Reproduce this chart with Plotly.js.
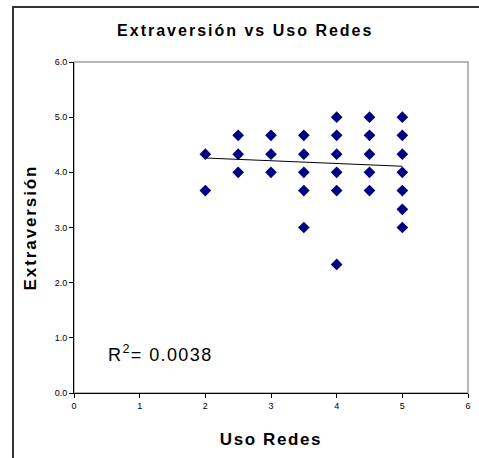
<!DOCTYPE html>
<html>
<head>
<meta charset="utf-8">
<script src="https://cdn.plot.ly/plotly-3.0.1.min.js"></script>
<style>
html,body{margin:0;padding:0;background:#fff;}
#chart{width:479px;height:458px;}
#chart .gtitle{letter-spacing:2px;}
#chart .ytitle{letter-spacing:1.9px;}
#chart .xtitle{letter-spacing:1.6px;}
#chart .annotation-text{letter-spacing:1.4px;}
</style>
</head>
<body>
<div id="chart"></div>
<script>
// Scatter data (Uso Redes vs Extraversión)
const usoRedes = [
  2, 2,
  2.5, 2.5, 2.5,
  3, 3, 3,
  3.5, 3.5, 3.5, 3.5, 3.5,
  4, 4, 4, 4, 4, 4,
  4.5, 4.5, 4.5, 4.5, 4.5,
  5, 5, 5, 5, 5, 5, 5
];
const extraversion = [
  4.33, 3.67,
  4.67, 4.33, 4.0,
  4.67, 4.33, 4.0,
  4.67, 4.33, 4.0, 3.67, 3.0,
  5.0, 4.67, 4.33, 4.0, 3.67, 2.33,
  5.0, 4.67, 4.33, 4.0, 3.67,
  5.0, 4.67, 4.33, 4.0, 3.67, 3.33, 3.0
];
// Linear trend line end points
const trendX = [2, 5];
const trendY = [4.26, 4.11];
const xTicks = [0, 1, 2, 3, 4, 5, 6];
const yTicks = [0, 1, 2, 3, 4, 5, 6];
const yTickLabels = ["0.0", "1.0", "2.0", "3.0", "4.0", "5.0", "6.0"];
const rSquaredText = "R<sup>2</sup>= 0.0038";

const FONT = "Arial, 'Liberation Sans', sans-serif";

const traces = [
  {
    x: usoRedes, y: extraversion, type: "scatter", mode: "markers",
    marker: {symbol: "diamond", size: 9, color: "#000080", line: {width: 0}},
    hoverinfo: "x+y"
  },
  {
    x: trendX, y: trendY, type: "scatter", mode: "lines",
    line: {color: "#000000", width: 1}, hoverinfo: "skip"
  }
];

const layout = {
  width: 479, height: 458,
  margin: {l: 74, r: 11, t: 62, b: 65, pad: 0},
  paper_bgcolor: "#ffffff", plot_bgcolor: "#ffffff",
  showlegend: false,
  font: {family: FONT, color: "#000"},
  title: {
    text: "<b>Extraversión vs Uso Redes</b>",
    font: {family: FONT, size: 16, color: "#000"},
    x: 0.512, xanchor: "center", y: 0.933, yanchor: "middle"
  },
  xaxis: {
    range: [0, 6], tickvals: xTicks, ticktext: xTicks.map(String),
    showgrid: false, zeroline: false,
    showline: true, linecolor: "#000", linewidth: 1,
    ticks: "outside", ticklen: 4, tickcolor: "#000", tickwidth: 1,
    tickfont: {family: FONT, size: 9, color: "#000"},
    title: {text: "<b>Uso Redes</b>", font: {family: FONT, size: 17, color: "#000"}, standoff: 23},
    fixedrange: true
  },
  yaxis: {
    range: [0, 6], tickvals: yTicks, ticktext: yTickLabels,
    showgrid: false, zeroline: false,
    showline: true, linecolor: "#000", linewidth: 1,
    ticks: "outside", ticklen: 4, tickcolor: "#000", tickwidth: 1,
    tickfont: {family: FONT, size: 9, color: "#000"},
    title: {text: "<b>Extraversión</b>", font: {family: FONT, size: 17, color: "#000"}, standoff: 13},
    fixedrange: true
  },
  shapes: [
    {type: "rect", xref: "paper", yref: "paper", x0: 0, x1: 1, y0: 0, y1: 1,
     line: {color: "#a0a0a0", width: 1.5}, layer: "below"},
    {type: "rect", xref: "paper", yref: "paper", x0: -0.1548, x1: 1.05, y0: -0.2, y1: 1.166,
     line: {color: "#333333", width: 2}, layer: "below"}
  ],
  annotations: [
    {text: rSquaredText, x: 0.59, y: 0.72, xref: "x", yref: "y",
     xanchor: "left", yanchor: "middle", showarrow: false,
     font: {family: FONT, size: 18, color: "#000"}}
  ]
};

Plotly.newPlot("chart", traces, layout, {displayModeBar: false, staticPlot: true});
</script>
</body>
</html>
